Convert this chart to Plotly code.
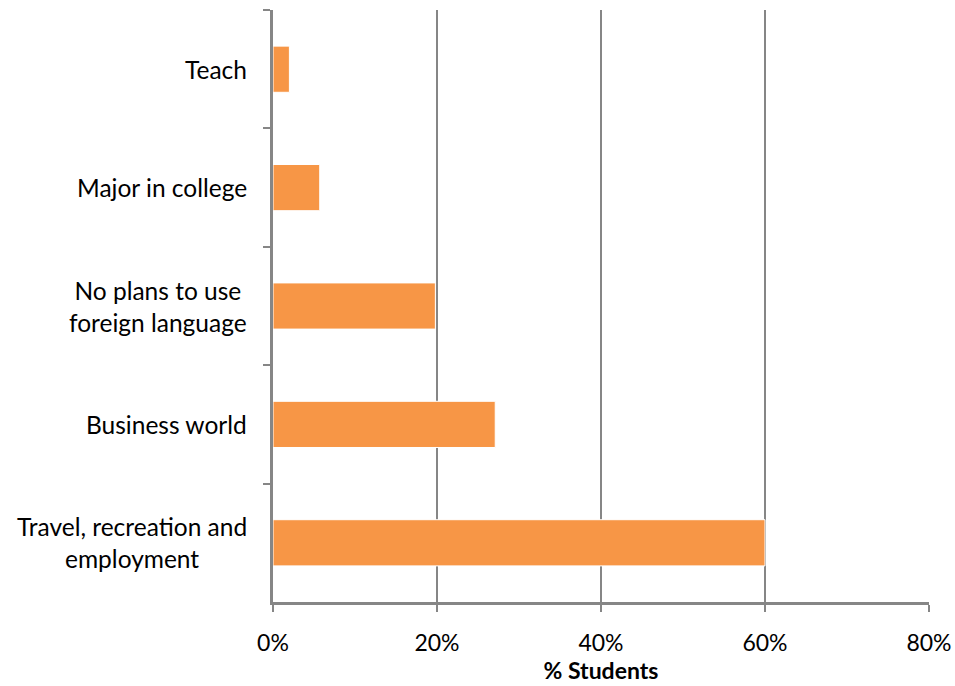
import plotly.graph_objects as go

categories = ["Teach", "Major in college", "No plans to use<br>foreign language",
              "Business world", "Travel, recreation and<br>employment"]
values = [2.0, 5.7, 19.8, 27.1, 60.0]
x_ticks = [0, 20, 40, 60, 80]
x_tick_labels = ["0%", "20%", "40%", "60%", "80%"]

FONT = "Lato"
GRID = "#868686"

fig = go.Figure(go.Bar(
    x=values, y=categories, orientation="h",
    marker=dict(color="#F79646", line=dict(color="white", width=1)),
    width=0.39,
))

for c in categories:
    fig.add_annotation(
        x=0, xref="paper", y=c, yref="y", text=c, showarrow=False,
        xanchor="right", yanchor="middle", align="center", xshift=-24,
        font=dict(family=FONT, size=24.5, color="#000000"),
    )

fig.update_layout(
    width=955, height=686,
    margin=dict(l=273, r=26, t=10, b=84, autoexpand=False),
    paper_bgcolor="white", plot_bgcolor="white",
    showlegend=False,
    font=dict(family=FONT, size=23, color="#000000"),
)
fig.update_xaxes(
    range=[0, 80], tickvals=x_ticks, ticktext=x_tick_labels,
    showgrid=True, gridcolor=GRID, gridwidth=1.5,
    showline=True, linecolor=GRID, linewidth=2.5,
    ticks="outside", ticklen=7, tickwidth=1.5, tickcolor=GRID,
    ticklabelstandoff=12, zeroline=False, automargin=False,
    title=dict(text="<b>% Students</b>", font=dict(family=FONT, size=23), standoff=0),
    tickfont=dict(family=FONT, size=23),
)
fig.update_yaxes(
    categoryorder="array", categoryarray=categories, autorange="reversed",
    showticklabels=False, showgrid=False, automargin=False,
    showline=True, linecolor=GRID, linewidth=2.5,
    ticks="outside", ticklen=7, tickwidth=1.5, tickcolor=GRID,
    tickson="boundaries",
)

fig.write_html("out.html")
